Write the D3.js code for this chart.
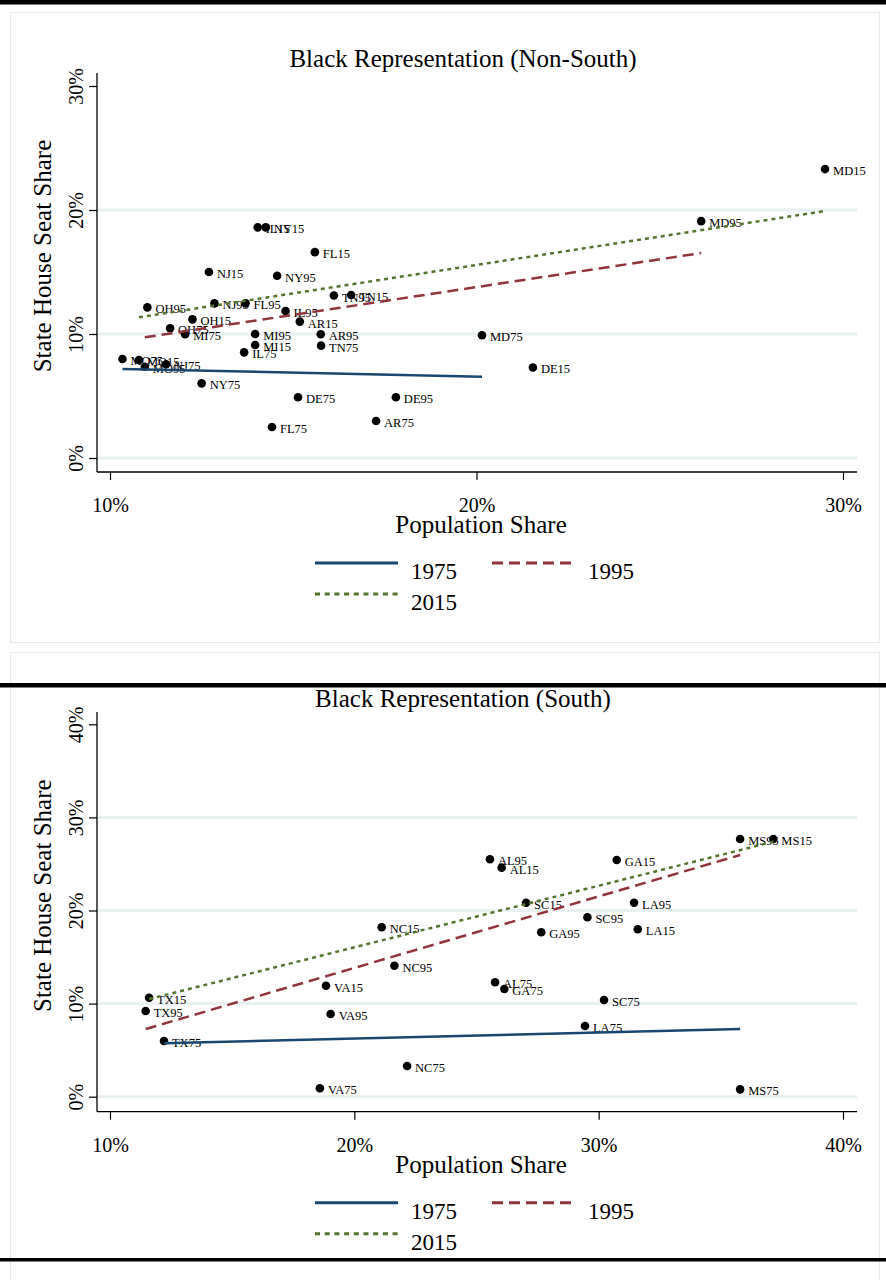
<!DOCTYPE html>
<html>
<head>
<meta charset="utf-8">
<script src="https://cdn.jsdelivr.net/npm/d3@7"></script>
<style>
  body { margin: 0; background: #fff; }
  svg { display: block; }
  text { font-family: "Liberation Serif", "DejaVu Serif", serif; fill: #000; }
</style>
</head>
<body>
<svg id="chart" width="886" height="1280"></svg>
<script>
// Legend / series definitions
const years = ["1975", "1995", "2015"];
const yearColors = ["#1a476f", "#90353b", "#55752f"];
const yearDashes = [null, "11,6", "4,4"];

// Non-South states: [label, population share %, state house seat share %]
const nonSouthPoints = [
  ["MD15", 29.51, 23.30], ["MD95", 26.13, 19.10], ["MD75", 20.15, 9.90],
  ["DE15", 21.54, 7.30],  ["DE95", 17.80, 4.90],  ["DE75", 15.13, 4.90],
  ["AR75", 17.26, 2.98],  ["AR95", 15.75, 9.98],  ["AR15", 15.18, 11.00],
  ["FL75", 14.42, 2.50],  ["FL95", 13.70, 12.47], ["FL15", 15.59, 16.60],
  ["TN75", 15.76, 9.06],  ["TN95", 16.11, 13.10], ["TN15", 16.58, 13.15],
  ["NY75", 12.50, 6.02],  ["NY95", 14.56, 14.70], ["NY15", 14.25, 18.60],
  ["NJ75", 11.53, 7.56],  ["NJ95", 12.85, 12.47], ["NJ15", 12.70, 15.00],
  ["IL75", 13.66, 8.52],  ["IL95", 14.79, 11.85], ["IL15", 14.03, 18.60],
  ["MI75", 12.05, 9.98],  ["MI95", 13.96, 10.00], ["MI15", 13.96, 9.11],
  ["OH75", 11.64, 10.46], ["OH95", 11.02, 12.15], ["OH15", 12.25, 11.18],
  ["MO75", 10.34, 7.98],  ["MO95", 10.95, 7.36],  ["MO15", 10.79, 7.90]
];
// Fitted seat share at the smallest and largest population share of each year
const nonSouthFits = [[7.18, 6.56], [9.73, 16.53], [11.35, 19.92]];
const nonSouthXTicks = [10, 20, 30];
const nonSouthYTicks = [0, 10, 20, 30];

// Southern states
const southPoints = [
  ["MS75", 35.79, 0.79],  ["MS95", 35.79, 27.68], ["MS15", 37.15, 27.68],
  ["AL75", 25.76, 12.29], ["AL95", 25.55, 25.50], ["AL15", 26.03, 24.60],
  ["GA75", 26.14, 11.57], ["GA95", 27.65, 17.66], ["GA15", 30.74, 25.42],
  ["SC75", 30.22, 10.39], ["SC95", 29.54, 19.27], ["SC15", 27.03, 20.84],
  ["LA75", 29.44, 7.59],  ["LA95", 31.45, 20.84], ["LA15", 31.60, 17.98],
  ["NC75", 22.16, 3.30],  ["NC95", 21.64, 14.07], ["NC15", 21.12, 18.20],
  ["VA75", 18.59, 0.90],  ["VA95", 19.03, 8.88],  ["VA15", 18.84, 11.92],
  ["TX75", 12.21, 5.98],  ["TX95", 11.46, 9.20],  ["TX15", 11.60, 10.63]
];
const southFits = [[5.74, 7.27], [7.27, 25.96], [10.49, 27.39]];
const southXTicks = [10, 20, 30, 40];
const southYTicks = [0, 10, 20, 30, 40];

const svg = d3.select("#chart");

// Graph frames and separating rules
svg.append("rect").attr("x", 10.5).attr("y", 12.5).attr("width", 869).attr("height", 630)
  .attr("fill", "none").attr("stroke", "#e4ebee");
svg.append("rect").attr("x", 10.5).attr("y", 652.5).attr("width", 869).attr("height", 660)
  .attr("fill", "none").attr("stroke", "#e4ebee");

function yearIndex(label) {
  return years.findIndex(y => y.slice(2) === label.slice(2));
}

function drawPanel(cfg) {
  const g = svg.append("g");
  const x = d3.scaleLinear().domain([cfg.xTicks[0], cfg.xTicks[cfg.xTicks.length - 1]]).range([110, 843]);
  const y = d3.scaleLinear().domain([cfg.yTicks[0], cfg.yTicks[cfg.yTicks.length - 1]]).range(cfg.yRange);
  const left = 97, right = 857, base = cfg.axisY;

  // horizontal grid lines
  g.selectAll(".grid").data(cfg.yTicks.slice(0, -1)).join("line")
    .attr("x1", left + 1).attr("x2", right)
    .attr("y1", d => y(d)).attr("y2", d => y(d))
    .attr("stroke", "#e9f0f2").attr("stroke-width", 3);

  // title
  g.append("text").attr("x", 463).attr("y", cfg.titleY).attr("text-anchor", "middle")
    .attr("font-size", 25).text(cfg.title);

  // axes
  const xAxis = g.append("g").attr("transform", `translate(0,${base})`)
    .call(d3.axisBottom(x).tickValues(cfg.xTicks).tickSize(8).tickFormat(d => d + "%"));
  xAxis.select(".domain").remove();
  xAxis.selectAll(".tick line").attr("stroke", "#000").attr("stroke-width", 1.2);
  xAxis.selectAll(".tick text").attr("y", 40).attr("dy", null)
    .attr("font-size", 20).attr("font-family", null).attr("fill", "#000");

  const yAxis = g.append("g").attr("transform", `translate(${left},0)`)
    .call(d3.axisLeft(y).tickValues(cfg.yTicks).tickSize(8).tickFormat(d => d + "%"));
  yAxis.select(".domain").remove();
  yAxis.selectAll(".tick line").attr("stroke", "#000").attr("stroke-width", 1.2);
  yAxis.selectAll(".tick text").attr("x", null).attr("dy", null)
    .attr("transform", "translate(-14,0) rotate(-90)").attr("text-anchor", "middle")
    .attr("font-size", 20).attr("font-family", null).attr("fill", "#000");

  g.append("line").attr("x1", left).attr("x2", left).attr("y1", cfg.yTop).attr("y2", base)
    .attr("stroke", "#000").attr("stroke-width", 1.3);
  g.append("line").attr("x1", left).attr("x2", right).attr("y1", base).attr("y2", base)
    .attr("stroke", "#000").attr("stroke-width", 1.3);

  // axis titles
  g.append("text").attr("x", 481).attr("y", base + 61).attr("text-anchor", "middle")
    .attr("font-size", 25).text("Population Share");
  g.append("text").attr("transform", `translate(51,${base - 216}) rotate(-90)`)
    .attr("text-anchor", "middle").attr("font-size", 25).text("State House Seat Share");

  // points and their labels
  const pts = g.append("g");
  pts.selectAll("circle").data(cfg.points).join("circle")
    .attr("cx", d => x(d[1])).attr("cy", d => y(d[2])).attr("r", 4.3).attr("fill", "#000");
  pts.selectAll("text").data(cfg.points).join("text")
    .attr("x", d => x(d[1]) + 8).attr("y", d => y(d[2]) + 6)
    .attr("font-size", 12.5).text(d => d[0]);

  // fitted lines for each year, spanning that year's data
  years.forEach((yr, i) => {
    const xs = cfg.points.filter(p => yearIndex(p[0]) === i).map(p => p[1]);
    const [x0, x1] = d3.extent(xs);
    const fit = cfg.fits[i];
    g.append("path")
      .attr("d", d3.line().x(d => x(d[0])).y(d => y(d[1]))([[x0, fit[0]], [x1, fit[1]]]))
      .attr("fill", "none").attr("stroke", yearColors[i]).attr("stroke-width", 2.5)
      .attr("stroke-dasharray", yearDashes[i]);
  });

  // legend
  const legendPos = [[315, base + 91], [492, base + 91], [315, base + 122]];
  years.forEach((yr, i) => {
    const [lx, ly] = legendPos[i];
    g.append("line").attr("x1", lx).attr("x2", lx + 83).attr("y1", ly).attr("y2", ly)
      .attr("stroke", yearColors[i]).attr("stroke-width", 3)
      .attr("stroke-dasharray", i === 2 ? "5,4.7" : yearDashes[i]);
    g.append("text").attr("x", lx + 96).attr("y", ly + 16).attr("font-size", 23).text(yr);
  });
}

drawPanel({
  title: "Black Representation (Non-South)", titleY: 67,
  points: nonSouthPoints, fits: nonSouthFits,
  xTicks: nonSouthXTicks, yTicks: nonSouthYTicks,
  yRange: [458, 86], axisY: 472, yTop: 73
});

drawPanel({
  title: "Black Representation (South)", titleY: 707,
  points: southPoints, fits: southFits,
  xTicks: southXTicks, yTicks: southYTicks,
  yRange: [1096.7, 724.3], axisY: 1111.7, yTop: 712
});

// heavy rules between the graphs
svg.append("rect").attr("x", 0).attr("y", 0).attr("width", 886).attr("height", 4.5).attr("fill", "#000");
svg.append("rect").attr("x", 0).attr("y", 683).attr("width", 886).attr("height", 4.5).attr("fill", "#000");
svg.append("rect").attr("x", 0).attr("y", 1258).attr("width", 886).attr("height", 3.5).attr("fill", "#000");
</script>
</body>
</html>
